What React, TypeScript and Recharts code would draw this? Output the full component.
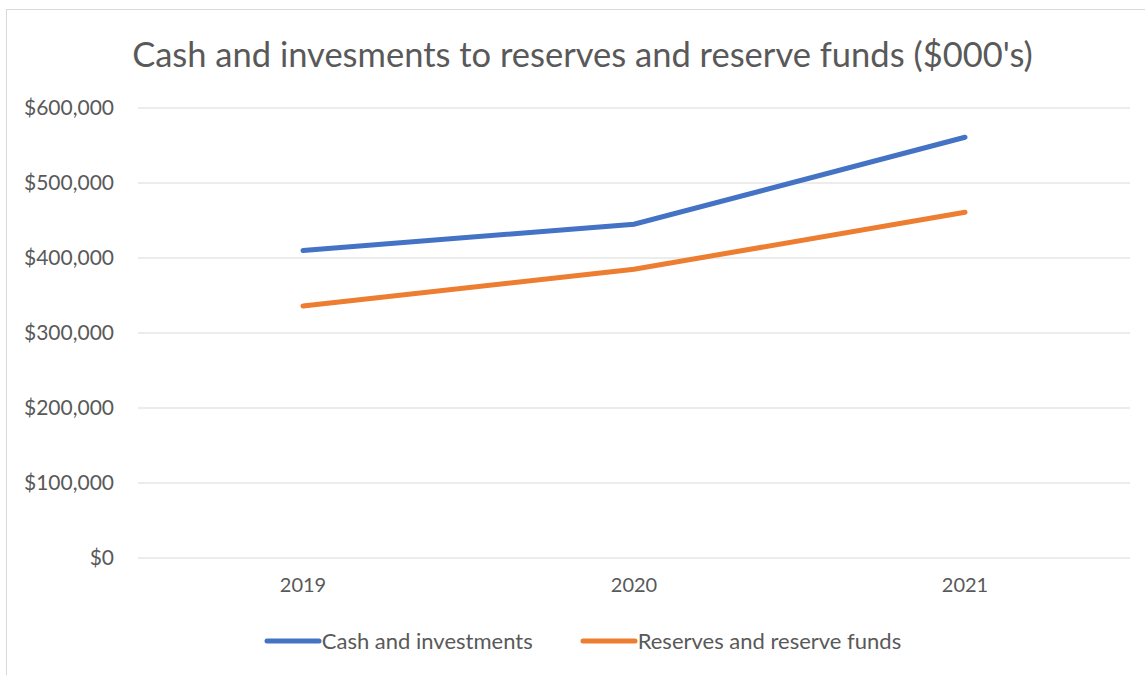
import { LineChart, Line, XAxis, YAxis, CartesianGrid, Legend } from 'recharts';

const years = ['2019', '2020', '2021'];
const cashAndInvestments = [410000, 445000, 561000];
const reservesAndFunds = [336000, 385000, 461000];
const yTicks = [0, 100000, 200000, 300000, 400000, 500000, 600000];

const data = years.map((year, i) => ({
  year,
  cash: cashAndInvestments[i],
  reserves: reservesAndFunds[i]
}));

const FONT = 'Lato, "Open Sans", sans-serif';
const TEXT = '#595959';

const formatDollars = (v: number) => '$' + v.toLocaleString('en-US');

function LegendContent({ payload }: any) {
  return (
    <div style={{ display: 'flex', justifyContent: 'center', alignItems: 'center', gap: 47 }}>
      {(payload || []).map((p: any) => (
        <div key={p.value} style={{ display: 'flex', alignItems: 'center' }}>
          <svg width={58} height={10}>
            <line x1={3} y1={5} x2={55} y2={5} stroke={p.color} strokeWidth={5} strokeLinecap="round" />
          </svg>
          <span style={{ fontFamily: FONT, fontSize: 22, color: TEXT }}>{p.value}</span>
        </div>
      ))}
    </div>
  );
}

export default function App() {
  return (
    <div style={{ position: 'absolute', left: 0, top: 0, width: 1145, height: 675, overflow: 'hidden', background: '#fff' }}>
      <div
        style={{
          position: 'absolute',
          left: 6,
          top: 9,
          width: 1160,
          height: 700,
          border: '1px solid #d9d9d9',
          boxSizing: 'border-box'
        }}
      />
      <div
        style={{
          position: 'absolute',
          left: 0,
          top: 34,
          width: 1165,
          textAlign: 'center',
          fontFamily: FONT,
          fontSize: 34.5,
          color: TEXT,
          lineHeight: '40px'
        }}
      >
        Cash and invesments to reserves and reserve funds ($000's)
      </div>
      <div style={{ position: 'absolute', left: 0, top: 0 }}>
        <LineChart
          width={1145}
          height={675}
          data={data}
          margin={{ top: 108, right: 15, bottom: 57, left: 0 }}
        >
          <CartesianGrid vertical={false} stroke="#d9d9d9" strokeWidth={1} />
          <XAxis
            dataKey="year"
            axisLine={false}
            tickLine={false}
            padding={{ left: 165, right: 165 }}
            tick={{ fill: TEXT, fontSize: 20, fontFamily: FONT }}
            tickMargin={14}
            height={60}
          />
          <YAxis
            width={138}
            domain={[0, 600000]}
            ticks={yTicks}
            axisLine={false}
            tickLine={false}
            tickMargin={18}
            tickFormatter={formatDollars}
            tick={{ fill: TEXT, fontSize: 21, fontFamily: FONT }}
          />
          <Legend
            verticalAlign="middle"
            content={<LegendContent />}
            wrapperStyle={{ position: 'absolute', top: 627, left: 0, width: 1165 }}
          />
          <Line
            type="linear"
            dataKey="cash"
            name="Cash and investments"
            stroke="#4472C4"
            strokeWidth={5}
            strokeLinecap="round"
            dot={false}
            isAnimationActive={false}
          />
          <Line
            type="linear"
            dataKey="reserves"
            name="Reserves and reserve funds"
            stroke="#ED7D31"
            strokeWidth={5}
            strokeLinecap="round"
            dot={false}
            isAnimationActive={false}
          />
        </LineChart>
      </div>
    </div>
  );
}
